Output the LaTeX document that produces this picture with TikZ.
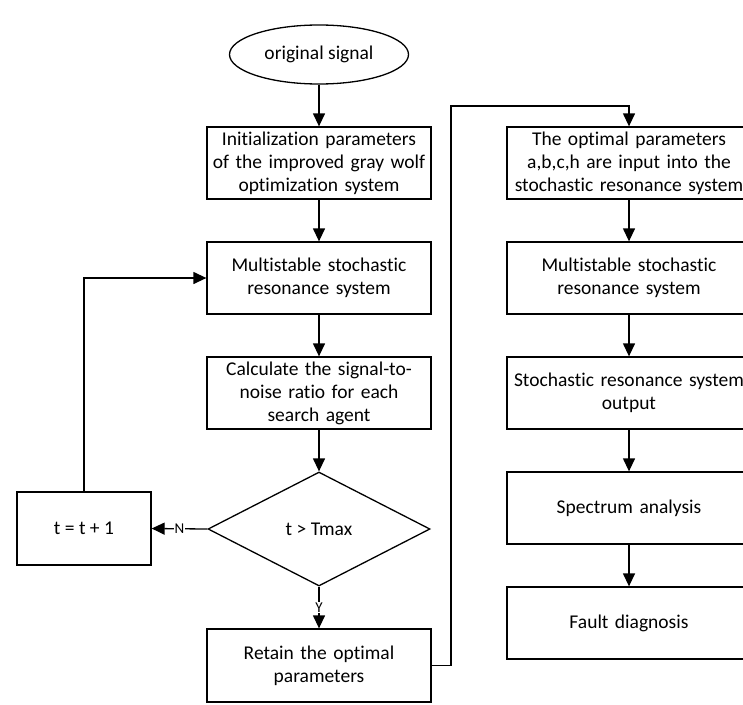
\documentclass[tikz,border=0pt]{standalone}
\usepackage{fontspec}
\setmainfont{Carlito}[Ligatures={NoCommon,NoContextual}]
\usetikzlibrary{shapes.geometric,arrows.meta}
\begin{document}
\begin{tikzpicture}[x=1pt,y=-1pt,
  every node/.style={font=\fontsize{19.5}{23}\selectfont},
  box/.style={draw,line width=1.3pt,rectangle,minimum width=224pt,minimum height=72pt,text width=224pt,align=center,inner sep=0pt},
  rbox/.style={box,minimum width=244pt,text width=244pt},
  arr/.style={line width=1.3pt,-{Triangle[length=13pt,width=12pt]}},
  lbl/.style={fill=white,inner sep=1pt,font=\fontsize{15}{17}\selectfont}]
\clip (0,0) rectangle (743,704);
\fill[white] (0,0) rectangle (743,704);
\node[draw,line width=1.3pt,ellipse,minimum width=179pt,minimum height=59pt,inner sep=0pt] (start) at (319,54.5) {original signal};
\node[box] (init) at (319,163) {Initialization parameters\\of the improved gray wolf\\optimization system};
\node[box] (msr) at (319,278) {Multistable stochastic\\resonance system};
\node[box] (calc) at (319,393) {Calculate the signal-to-\\noise ratio for each\\search agent};
\node[draw,line width=1.3pt,diamond,minimum width=222pt,minimum height=114pt,inner sep=0pt] (dec) at (319,529) {t > Tmax};
\node[draw,line width=1.3pt,rectangle,minimum width=134pt,minimum height=73pt,inner sep=0pt] (inc) at (84,528.5) {t = t + 1};
\node[box,minimum height=73pt] (keep) at (319,665.5) {Retain the optimal\\parameters};
\node[rbox] (r1) at (629,163) {The optimal parameters\\a,b,c,h are input into the\\stochastic resonance system};
\node[rbox] (r2) at (629,278) {Multistable stochastic\\resonance system};
\node[rbox] (r3) at (629,393) {Stochastic resonance system\\output};
\node[rbox] (r4) at (629,508) {Spectrum analysis};
\node[rbox] (r5) at (629,623) {Fault diagnosis};
\coordinate (jt) at (451,106);
\draw[arr] (start) -- (init);
\draw[arr] (init) -- (msr);
\draw[arr] (msr) -- (calc);
\draw[arr] (calc) -- (dec);
\draw[arr] (dec.west) -- node[lbl,pos=0.5] {N} (inc.east);
\draw[arr] (dec.south) -- node[lbl,pos=0.5] {Y} (keep.north);
\draw[arr] (inc.north) |- (msr.west);
\draw[arr] (keep.east) -| (jt) -| (r1.north);
\draw[arr] (r1) -- (r2);
\draw[arr] (r2) -- (r3);
\draw[arr] (r3) -- (r4);
\draw[arr] (r4) -- (r5);
\end{tikzpicture}
\end{document}
